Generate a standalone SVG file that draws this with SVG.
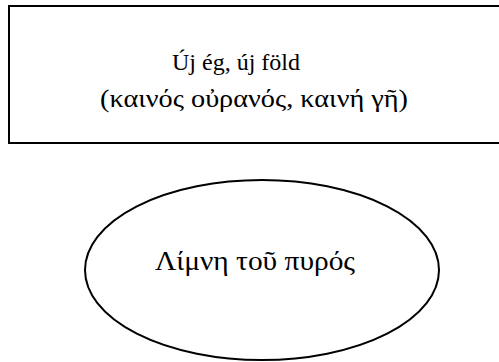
<svg xmlns="http://www.w3.org/2000/svg" width="499" height="362" viewBox="0 0 499 362">
<style>
.shape{fill:#fff;stroke:#000;stroke-width:2}
.t{font-family:"Liberation Serif","Times New Roman",serif;fill:#000;text-anchor:middle}
</style>
<rect width="499" height="362" fill="#fff"/>
<g id="node-new-heaven">
<rect class="shape" x="9" y="6" width="495" height="137"/>
<text class="t" x="236" y="70" font-size="24">Új ég, új föld</text>
<text class="t" x="254" y="107" font-size="26" textLength="308" lengthAdjust="spacingAndGlyphs">(καινός οὐρανός, καινή γῆ)</text>
</g>
<g id="node-lake">
<ellipse class="shape" cx="262" cy="270" rx="177" ry="90"/>
<text class="t" x="255" y="270" font-size="27" textLength="200" lengthAdjust="spacingAndGlyphs">Λίμνη τοῦ πυρός</text>
</g>
<g id="connectors"></g>
</svg>
